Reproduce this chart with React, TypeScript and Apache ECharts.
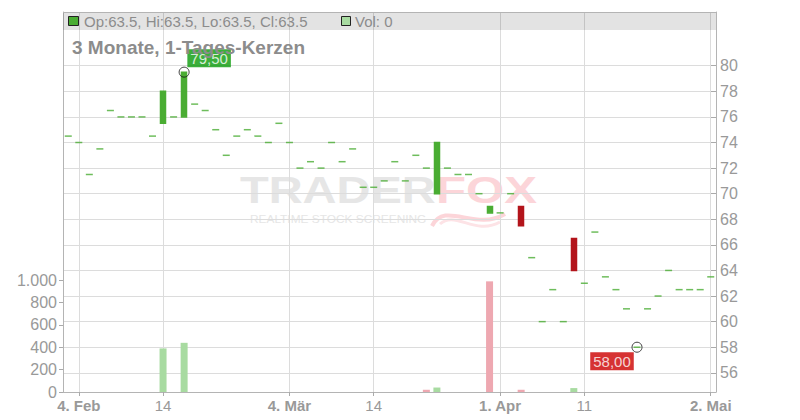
import React, { useEffect, useRef } from "react";
import * as echarts from "echarts";

// Trading days (1 Feb – 2 May 2019, German exchange calendar)
const dates = [
  "2019-02-01", "2019-02-04", "2019-02-05", "2019-02-06", "2019-02-07", "2019-02-08",
  "2019-02-11", "2019-02-12", "2019-02-13", "2019-02-14", "2019-02-15",
  "2019-02-18", "2019-02-19", "2019-02-20", "2019-02-21", "2019-02-22",
  "2019-02-25", "2019-02-26", "2019-02-27", "2019-02-28",
  "2019-03-01", "2019-03-04", "2019-03-05", "2019-03-06", "2019-03-07", "2019-03-08",
  "2019-03-11", "2019-03-12", "2019-03-13", "2019-03-14", "2019-03-15",
  "2019-03-18", "2019-03-19", "2019-03-20", "2019-03-21", "2019-03-22",
  "2019-03-25", "2019-03-26", "2019-03-27", "2019-03-28", "2019-03-29",
  "2019-04-01", "2019-04-02", "2019-04-03", "2019-04-04", "2019-04-05",
  "2019-04-08", "2019-04-09", "2019-04-10", "2019-04-11", "2019-04-12",
  "2019-04-15", "2019-04-16", "2019-04-17", "2019-04-18",
  "2019-04-23", "2019-04-24", "2019-04-25", "2019-04-26",
  "2019-04-29", "2019-04-30", "2019-05-02",
];

const opens = [
  74.5, 74.0, 71.5, 73.5, 76.5, 76.0, 76.0, 76.0, 74.5, 75.5,
  76.0, 76.0, 77.0, 76.5, 75.0, 73.0, 74.5, 75.0, 74.5, 74.0,
  75.5, 74.0, 72.0, 72.5, 72.0, 74.0, 72.5, 73.5, 70.5, 70.5,
  71.0, 72.5, 71.0, 73.0, 72.0, 70.0, 72.0, 71.5, 71.5, 70.0,
  68.5, 68.5, 70.0, 69.0, 65.0, 60.0, 62.5, 60.0, 66.5, 63.0,
  67.0, 63.5, 62.5, 61.0, 58.0, 61.0, 62.0, 64.0, 62.5, 62.5,
  62.5, 63.5,
];

const closes = [
  74.5, 74.0, 71.5, 73.5, 76.5, 76.0, 76.0, 76.0, 74.5, 78.0,
  76.0, 79.5, 77.0, 76.5, 75.0, 73.0, 74.5, 75.0, 74.5, 74.0,
  75.5, 74.0, 72.0, 72.5, 72.0, 74.0, 72.5, 73.5, 70.5, 70.5,
  71.0, 72.5, 71.0, 73.0, 72.0, 74.0, 72.0, 71.5, 71.5, 70.0,
  69.0, 68.5, 70.0, 67.5, 65.0, 60.0, 62.5, 60.0, 64.0, 63.0,
  67.0, 63.5, 62.5, 61.0, 58.0, 61.0, 62.0, 64.0, 62.5, 62.5,
  62.5, 63.5,
];

const volumes = [
  0, 0, 0, 0, 0, 0, 0, 0, 0, 390,
  0, 440, 0, 0, 0, 0, 0, 0, 0, 0,
  0, 0, 0, 0, 0, 0, 0, 0, 0, 0,
  0, 0, 0, 0, 20, 40, 0, 0, 0, 0,
  990, 0, 0, 20, 0, 0, 0, 0, 35, 0,
  0, 0, 0, 0, 0, 0, 0, 0, 0, 0,
  0, 0,
];

const tickDates = ["2019-02-04", "2019-02-14", "2019-03-04", "2019-03-14", "2019-04-01", "2019-04-11", "2019-05-02"];
const tickLabels = ["4. Feb", "14", "4. Mär", "14", "1. Apr", "11", "2. Mai"];
const tickIsMonth = [true, false, true, false, true, false, true];

const priceTicks = [56, 58, 60, 62, 64, 66, 68, 70, 72, 74, 76, 78, 80];
const volumeTicks = [0, 200, 400, 600, 800, 1000];
const volumeTickLabels = ["0", "200", "400", "600", "800", "1.000"];

const highMarkDate = "2019-02-18";
const highMarkValue = 79.5;
const highMarkLabel = "79,50";
const lowMarkDate = "2019-04-18";
const lowMarkValue = 58.0;
const lowMarkLabel = "58,00";

const legendText = "Op:63.5, Hi:63.5, Lo:63.5, Cl:63.5";
const volLegendText = "Vol: 0";
const titleText = "3 Monate, 1-Tages-Kerzen";

const UP = "#4aad33";
const DOWN = "#b3141b";
const VOL_UP = "#a8dba1";
const VOL_DOWN = "#eea8b1";
const FONT = "'Liberation Sans', Arial, sans-serif";

export default function App() {
  const ref = useRef<HTMLDivElement>(null);

  useEffect(() => {
    document.body.style.margin = "0";
    if (!ref.current) return;
    const chart = echarts.init(ref.current, null, { renderer: "svg" });

    // real bodies through the candlestick series, flat (doji) days as dashes
    const candleData = dates.map((d, i) => {
      const o = opens[i];
      const c = closes[i];
      return o === c ? ["-", "-", "-", "-"] : [o, c, Math.min(o, c), Math.max(o, c)];
    });
    const dojiData = dates
      .map((d, i) => (opens[i] === closes[i] ? [d, closes[i]] : null))
      .filter((v) => v !== null);

    const volumeData = volumes.map((v, i) => ({
      value: v,
      itemStyle: { color: i > 0 && closes[i] < closes[i - 1] ? VOL_DOWN : VOL_UP },
    }));

    const isTick = (_idx: number, value: string) => tickDates.indexOf(value) >= 0;

    const option: any = {
      animation: false,
      grid: { left: 63, right: 84, top: 12, bottom: 28, containLabel: false, outerBoundsMode: "none" },
      xAxis: {
        type: "category",
        data: dates,
        boundaryGap: true,
        axisLine: { show: true, lineStyle: { color: "#b4b4b4", width: 1 } },
        axisTick: { show: true, alignWithLabel: true, interval: isTick, length: 4, lineStyle: { color: "#aaa" } },
        axisLabel: {
          interval: isTick,
          margin: 6,
          hideOverlap: false,
          formatter: (value: string) => {
            const k = tickDates.indexOf(value);
            if (k < 0) return "";
            return tickIsMonth[k] ? `{b|${tickLabels[k]}}` : `{n|${tickLabels[k]}}`;
          },
          rich: {
            b: { fontFamily: FONT, fontSize: 15, fontWeight: "bold", color: "#999" },
            n: { fontFamily: FONT, fontSize: 15, color: "#999" },
          },
        },
        splitLine: { show: false },
      },
      yAxis: [
        {
          type: "value",
          position: "right",
          min: 54.5,
          max: 84.2,
          scale: true,
          axisLine: { show: true, lineStyle: { color: "#b4b4b4" } },
          axisTick: { show: true, inside: true, length: 5, customValues: priceTicks, lineStyle: { color: "#aaa" } },
          axisLabel: { customValues: priceTicks, color: "#999", fontSize: 16, fontFamily: FONT, margin: 4 },
          splitLine: { show: true, lineStyle: { color: "#dcdcdc", width: 1 } },
        },
        {
          type: "value",
          position: "left",
          min: 0,
          max: 3400,
          axisLine: { show: true, lineStyle: { color: "#b4b4b4" } },
          axisTick: { show: true, length: 4, customValues: volumeTicks, lineStyle: { color: "#aaa" } },
          axisLabel: {
            customValues: volumeTicks,
            color: "#999",
            fontSize: 16,
            fontFamily: FONT,
            margin: 6,
            formatter: (v: number) => {
              const k = volumeTicks.indexOf(v);
              return k >= 0 ? volumeTickLabels[k] : "";
            },
          },
          splitLine: { show: false },
        },
      ],
      series: [
        {
          type: "line",
          data: [],
          z: 1,
          silent: true,
          markLine: {
            z: 1,
            silent: true,
            symbol: ["none", "none"],
            label: { show: false },
            lineStyle: { color: "#dcdcdc", type: "solid", width: 1 },
            data: tickDates.map((d) => ({ xAxis: d })),
          },
        },
        {
          type: "bar",
          yAxisIndex: 1,
          data: volumeData,
          barWidth: 7,
          z: 2,
        },
        {
          type: "candlestick",
          yAxisIndex: 0,
          data: candleData,
          barWidth: 5.5,
          z: 3,
          itemStyle: {
            color: UP,
            color0: DOWN,
            borderColor: UP,
            borderColor0: DOWN,
            borderWidth: 1.5,
          },
        },
        {
          type: "scatter",
          yAxisIndex: 0,
          z: 3,
          silent: true,
          symbol: "rect",
          symbolSize: [7, 1.5],
          itemStyle: { color: UP },
          data: dojiData,
        },
        {
          type: "scatter",
          yAxisIndex: 0,
          z: 5,
          symbol: "circle",
          symbolSize: 10,
          itemStyle: { color: "rgba(255,255,255,0)", borderColor: "#111", borderWidth: 1 },
          label: {
            show: true,
            position: "inside",
            color: "#fff",
            fontSize: 15,
            fontFamily: FONT,
            padding: [2, 3, 1, 3],
          },
          data: [
            {
              value: [highMarkDate, highMarkValue],
              label: { formatter: highMarkLabel, backgroundColor: "#0a9a0a", offset: [25, -14] },
            },
            {
              value: [lowMarkDate, lowMarkValue],
              label: { formatter: lowMarkLabel, backgroundColor: "#cc0000", offset: [-25, 14] },
            },
          ],
        },
      ],
      graphic: [
        // watermark
        {
          type: "text",
          x: 240,
          y: 190,
          z: -1,
          scaleX: 1.27,
          silent: true,
          style: { text: "TRADER", font: `bold 37px ${FONT}`, fill: "#e6e6e6", textVerticalAlign: "middle" },
        },
        {
          type: "text",
          x: 436,
          y: 190,
          z: -1,
          scaleX: 1.33,
          silent: true,
          style: { text: "FOX", font: `bold 37px ${FONT}`, fill: "#fcd5d9", textVerticalAlign: "middle" },
        },
        {
          type: "text",
          x: 250,
          y: 219,
          z: -1,
          scaleX: 1.08,
          silent: true,
          style: { text: "REALTIME STOCK SCREENING", font: `11px ${FONT}`, fill: "#e6e6e6", textVerticalAlign: "middle" },
        },
        {
          type: "bezierCurve",
          z: -1,
          silent: true,
          shape: { x1: 432, y1: 226, x2: 505, y2: 214, cpx1: 445, cpy1: 200, cpx2: 475, cpy2: 232 },
          style: { stroke: "#fcd5d9", lineWidth: 4, fill: null },
        },
        {
          type: "bezierCurve",
          z: -1,
          silent: true,
          shape: { x1: 440, y1: 224, x2: 500, y2: 222, cpx1: 455, cpy1: 210, cpx2: 475, cpy2: 236 },
          style: { stroke: "#fde3e6", lineWidth: 3, fill: null },
        },
        // legend band
        {
          type: "rect",
          z: 10,
          silent: true,
          shape: { x: 63, y: 12, width: 653, height: 18 },
          style: { fill: "rgba(0,0,0,0.11)" },
        },
        {
          type: "line",
          z: 11,
          silent: true,
          shape: { x1: 63, y1: 12.5, x2: 716, y2: 12.5 },
          style: { stroke: "#b4b4b4", lineWidth: 1 },
        },
        {
          type: "rect",
          z: 11,
          silent: true,
          shape: { x: 68.5, y: 16.5, width: 10, height: 9 },
          style: { fill: UP, stroke: "#222", lineWidth: 1 },
        },
        {
          type: "text",
          z: 11,
          silent: true,
          x: 84,
          y: 21.5,
          style: { text: legendText, font: `15px ${FONT}`, fill: "#8c8c8c", textVerticalAlign: "middle" },
        },
        {
          type: "rect",
          z: 11,
          silent: true,
          shape: { x: 341.5, y: 16.5, width: 9, height: 9 },
          style: { fill: VOL_UP, stroke: "#222", lineWidth: 1 },
        },
        {
          type: "text",
          z: 11,
          silent: true,
          x: 355,
          y: 21.5,
          style: { text: volLegendText, font: `15px ${FONT}`, fill: "#8c8c8c", textVerticalAlign: "middle" },
        },
        {
          type: "text",
          z: 11,
          silent: true,
          x: 72,
          y: 47,
          style: { text: titleText, font: `bold 19px ${FONT}`, fill: "#8c8c8c", textVerticalAlign: "middle" },
        },
      ],
    };

    chart.setOption(option);
    return () => chart.dispose();
  }, []);

  return <div ref={ref} style={{ width: 800, height: 420 }} />;
}
